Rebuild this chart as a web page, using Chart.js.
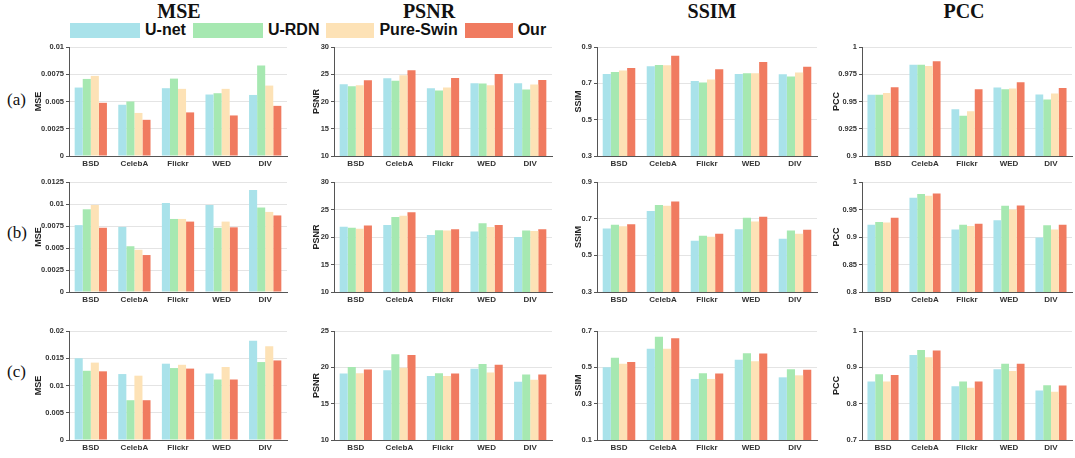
<!DOCTYPE html>
<html>
<head>
<meta charset="utf-8">
<script src="https://cdn.jsdelivr.net/npm/chart.js@4.4.0/dist/chart.umd.min.js"></script>
<style>
  body { margin: 0; width: 1075px; height: 458px; background: #fff; position: relative; overflow: hidden; font-family: "Liberation Sans", Arial, sans-serif; }
  canvas { position: absolute; }
  .col-title { position: absolute; top: 0; font: bold 20px "Liberation Serif", "Times New Roman", serif; color: #111; transform: translateX(-50%); }
  .row-label { position: absolute; left: 7px; font: 17px "Liberation Serif", "Times New Roman", serif; color: #111; }
  #legend { position: absolute; top: 21px; left: 70px; display: flex; align-items: center; font: bold 16px "Liberation Sans", Arial, sans-serif; color: #111; white-space: nowrap; }
  .legend-box { height: 15px; margin-right: 5px; }
  .legend-text { margin-right: 7px; }
</style>
</head>
<body>
<div class="col-title" style="left:179px">MSE</div>
<div class="col-title" style="left:429px">PSNR</div>
<div class="col-title" style="left:712px">SSIM</div>
<div class="col-title" style="left:964px">PCC</div>
<div class="row-label" style="top:90px">(a)</div>
<div class="row-label" style="top:223px">(b)</div>
<div class="row-label" style="top:362px">(c)</div>
<div id="legend"></div>

<script>
const categories = ['BSD', 'CelebA', 'Flickr', 'WED', 'DIV'];
const seriesNames = ['U-net', 'U-RDN', 'Pure-Swin', 'Our'];
const seriesColors = ['#a9e2ea', '#a6e8b1', '#fde2b6', '#f07b60'];

// rows of each panel: U-net, U-RDN, Pure-Swin, Our
const mseA = [
  [0.00628, 0.0047, 0.00622, 0.00564, 0.0056],
  [0.00707, 0.0050, 0.0071, 0.00576, 0.0083],
  [0.00735, 0.00395, 0.00616, 0.00616, 0.00646],
  [0.00488, 0.00332, 0.0040, 0.00372, 0.0046]
];
const psnrA = [
  [23.15, 24.25, 22.45, 23.35, 23.35],
  [22.8, 23.8, 22.0, 23.3, 22.2],
  [23.0, 24.8, 22.55, 23.0, 23.1],
  [23.9, 25.75, 24.3, 25.05, 23.95]
];
const ssimA = [
  [0.751, 0.794, 0.713, 0.751, 0.750],
  [0.762, 0.801, 0.704, 0.755, 0.737],
  [0.771, 0.800, 0.721, 0.756, 0.760],
  [0.784, 0.852, 0.778, 0.818, 0.791]
];
const pccA = [
  [0.9562, 0.9838, 0.9430, 0.9628, 0.9565],
  [0.9562, 0.9838, 0.9370, 0.9613, 0.9518],
  [0.9577, 0.9826, 0.9410, 0.9620, 0.9573],
  [0.9630, 0.9870, 0.9612, 0.9677, 0.9625]
];
const mseB = [
  [0.0076, 0.0074, 0.0101, 0.0099, 0.0116],
  [0.0094, 0.0052, 0.0083, 0.0073, 0.0096],
  [0.0099, 0.0048, 0.0083, 0.0080, 0.0091],
  [0.0073, 0.0042, 0.0080, 0.00735, 0.0087]
];
const psnrB = [
  [21.85, 22.2, 20.35, 21.0, 20.0],
  [21.7, 23.65, 21.25, 22.5, 21.2],
  [21.5, 23.85, 21.2, 21.8, 21.1],
  [22.1, 24.5, 21.4, 22.2, 21.4]
];
const ssimB = [
  [0.647, 0.742, 0.580, 0.642, 0.591],
  [0.667, 0.775, 0.607, 0.705, 0.635],
  [0.658, 0.771, 0.602, 0.685, 0.618],
  [0.669, 0.793, 0.618, 0.711, 0.640]
];
const pccB = [
  [0.9225, 0.9715, 0.9135, 0.9305, 0.8990],
  [0.9275, 0.9780, 0.9225, 0.9570, 0.9215],
  [0.9265, 0.9750, 0.9200, 0.9500, 0.9135],
  [0.9350, 0.9790, 0.9240, 0.9575, 0.9225]
];
const mseC = [
  [0.0150, 0.0121, 0.0140, 0.0122, 0.0182],
  [0.0127, 0.0073, 0.0132, 0.0111, 0.0143],
  [0.0142, 0.0118, 0.0138, 0.0134, 0.0172],
  [0.0126, 0.0073, 0.0131, 0.0111, 0.0146]
];
const psnrC = [
  [19.15, 19.6, 18.8, 19.8, 18.0],
  [20.05, 21.8, 19.2, 20.45, 19.0],
  [19.2, 19.95, 18.8, 19.3, 18.3],
  [19.7, 21.7, 19.15, 20.35, 19.0]
];
const ssimC = [
  [0.500, 0.602, 0.436, 0.542, 0.445],
  [0.553, 0.669, 0.467, 0.578, 0.489],
  [0.520, 0.602, 0.436, 0.533, 0.456],
  [0.530, 0.660, 0.466, 0.576, 0.487]
];
const pccC = [
  [0.861, 0.934, 0.848, 0.895, 0.836],
  [0.881, 0.948, 0.861, 0.910, 0.851],
  [0.861, 0.928, 0.844, 0.890, 0.833],
  [0.879, 0.946, 0.861, 0.910, 0.850]
];

// tick labels
const mseTicksA = ['0', '0.0025', '0.005', '0.0075', '0.01'];
const mseTicksB = ['0', '0.0025', '0.005', '0.0075', '0.01', '0.0125'];
const mseTicksC = ['0', '0.005', '0.01', '0.015', '0.02'];
const psnrTicksAB = ['10', '15', '20', '25', '30'];
const psnrTicksC = ['10', '15', '20', '25'];
const ssimTicksAB = ['0.3', '0.5', '0.7', '0.9'];
const ssimTicksC = ['0.1', '0.3', '0.5', '0.7'];
const pccTicksA = ['0.9', '0.925', '0.95', '0.975', '1'];
const pccTicksB = ['0.8', '0.85', '0.9', '0.95', '1'];
const pccTicksC = ['0.7', '0.8', '0.9', '1'];

// layout of the grid of panels (plot area edges in page pixels)
const columns = [
  { x0: 69, x1: 287, yw: 36 },
  { x0: 334, x1: 552, yw: 23 },
  { x0: 597, x1: 817, yw: 24 },
  { x0: 862, x1: 1072, yw: 31 }
];
const rows = [
  { y0: 47, y1: 156 },
  { y0: 182, y1: 292 },
  { y0: 331, y1: 440 }
];
const PAD_TOP = 8;
const XH = 16;
const tickFont = { family: 'Liberation Sans', weight: 'bold', size: 7.5 };
const xTickFont = { family: 'Liberation Sans', weight: 'bold', size: 8 };

// legend
const legendBoxW = [70, 70, 48, 48];
const legend = document.getElementById('legend');
seriesNames.forEach((name, i) => {
  legend.insertAdjacentHTML('beforeend',
    `<div class="legend-box" style="width:${legendBoxW[i]}px;background:${seriesColors[i]}"></div><span class="legend-text">${name}</span>`);
});

function drawPanel(rowIdx, colIdx, values, ticks, axisTitle) {
  const col = columns[colIdx];
  const row = rows[rowIdx];
  const canvas = document.createElement('canvas');
  canvas.width = col.yw + (col.x1 - col.x0) + 4;
  canvas.height = PAD_TOP + (row.y1 - row.y0) + XH;
  canvas.style.left = (col.x0 - col.yw) + 'px';
  canvas.style.top = (row.y0 - PAD_TOP) + 'px';
  document.body.appendChild(canvas);

  const tickVals = ticks.map(Number);

  new Chart(canvas, {
    type: 'bar',
    data: {
      labels: categories,
      datasets: seriesNames.map((name, i) => ({
        label: name,
        data: values[i],
        backgroundColor: seriesColors[i],
        borderWidth: 0,
        categoryPercentage: 0.74,
        barPercentage: 1.0
      }))
    },
    options: {
      responsive: false,
      animation: false,
      devicePixelRatio: 1,
      layout: { padding: { top: PAD_TOP, left: 0, right: 4, bottom: 0 } },
      plugins: { legend: { display: false }, tooltip: { enabled: false } },
      scales: {
        x: {
          grid: { display: false, drawTicks: false },
          border: { display: true, color: '#555', width: 1 },
          ticks: { font: xTickFont, color: '#333', padding: 3, maxRotation: 0 },
          afterFit: s => { s.height = XH; }
        },
        y: {
          min: tickVals[0],
          max: tickVals[tickVals.length - 1],
          afterBuildTicks: s => { s.ticks = tickVals.map(v => ({ value: v })); },
          ticks: { font: tickFont, color: '#333', padding: 2, callback: (v, i) => ticks[i] },
          grid: { color: '#e4e4e4', tickColor: '#555', tickLength: 3 },
          border: { color: '#555', width: 1 },
          title: { display: true, text: axisTitle, font: { family: 'Liberation Sans', weight: 'bold', size: 9 }, color: '#222', padding: 0 },
          afterFit: s => { s.width = col.yw; }
        }
      }
    }
  });
}

drawPanel(0, 0, mseA, mseTicksA, 'MSE');
drawPanel(0, 1, psnrA, psnrTicksAB, 'PSNR');
drawPanel(0, 2, ssimA, ssimTicksAB, 'SSIM');
drawPanel(0, 3, pccA, pccTicksA, 'PCC');
drawPanel(1, 0, mseB, mseTicksB, 'MSE');
drawPanel(1, 1, psnrB, psnrTicksAB, 'PSNR');
drawPanel(1, 2, ssimB, ssimTicksAB, 'SSIM');
drawPanel(1, 3, pccB, pccTicksB, 'PCC');
drawPanel(2, 0, mseC, mseTicksC, 'MSE');
drawPanel(2, 1, psnrC, psnrTicksC, 'PSNR');
drawPanel(2, 2, ssimC, ssimTicksC, 'SSIM');
drawPanel(2, 3, pccC, pccTicksC, 'PCC');
</script>
</body>
</html>
